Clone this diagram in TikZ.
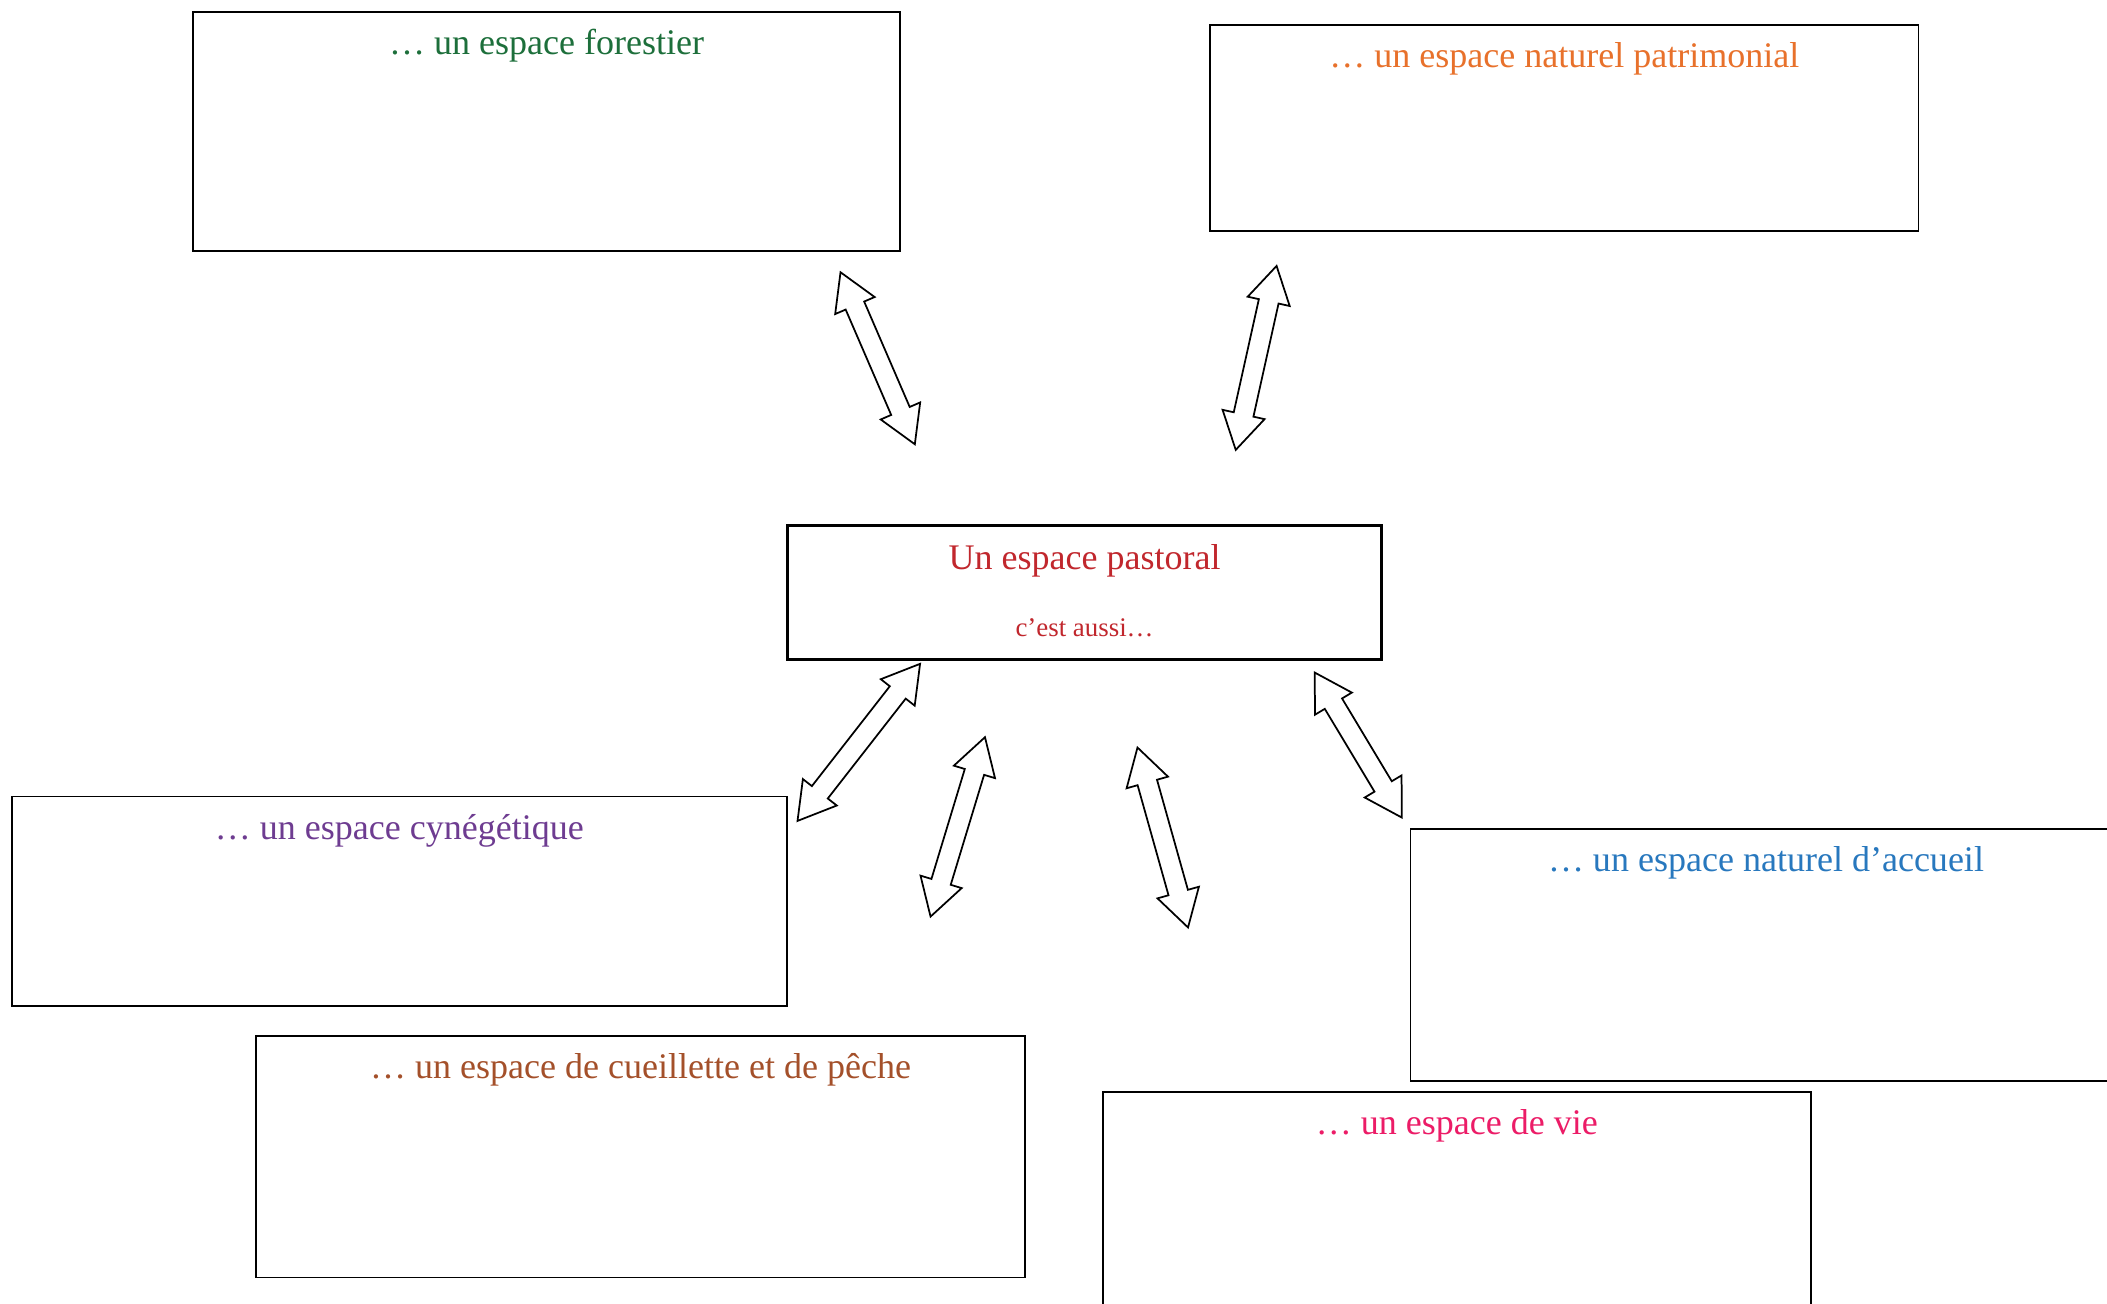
\documentclass[tikz,border=0pt]{standalone}
\usepackage{fontspec}
\setmainfont{Liberation Serif}
\usetikzlibrary{calc}
\definecolor{forestc}{HTML}{1D6F3B}
\definecolor{patric}{HTML}{E8712B}
\definecolor{pastoc}{HTML}{C1272D}
\definecolor{cync}{HTML}{6E3C91}
\definecolor{accc}{HTML}{2878BE}
\definecolor{cueic}{HTML}{A4502A}
\definecolor{viec}{HTML}{EC1C67}
\tikzset{
  box/.style={draw=black, line width=1.4pt, anchor=north west, inner sep=0pt},
  centralbox/.style={box, line width=2.2pt},
  ttl/.style={inner sep=0pt, font=\fontsize{26.8}{30}\selectfont},
  subttl/.style={inner sep=0pt, font=\fontsize{20}{23}\selectfont},
  blockarrow/.style={draw=black, fill=white, line width=1.3pt, line join=miter},
}
\newcommand\hl{27pt}
\newcommand\hw{16pt}
\newcommand\sw{7.5pt}
\newcommand\dblarrow[2]{%
  \draw[blockarrow]
    (#1)
    -- ($(#1)!\hl!(#2)!\hw!90:(#2)$)
    -- ($(#1)!\hl!(#2)!\sw!90:(#2)$)
    -- ($(#2)!\hl!(#1)!\sw!-90:(#1)$)
    -- ($(#2)!\hl!(#1)!\hw!-90:(#1)$)
    -- (#2)
    -- ($(#2)!\hl!(#1)!\hw!90:(#1)$)
    -- ($(#2)!\hl!(#1)!\sw!90:(#1)$)
    -- ($(#1)!\hl!(#2)!\sw!-90:(#2)$)
    -- ($(#1)!\hl!(#2)!\hw!-90:(#2)$)
    -- cycle;}
\begin{document}
\begin{tikzpicture}[x=1pt, y=-1pt]
\useasboundingbox[fill=white] (0,0) rectangle (1568,970);
\begin{scope}
\clip (0,0) rectangle (1568,970);
% boxes
\node[box, minimum width=526pt, minimum height=178pt] (forest) at (143,8) {};
\node[box, minimum width=527pt, minimum height=153pt] (patri) at (900,18) {};
\node[centralbox, minimum width=442pt, minimum height=100pt] (pasto) at (585,390) {};
\node[box, minimum width=577pt, minimum height=156pt] (cyn) at (8,592) {};
\node[box, minimum width=529pt, minimum height=188pt] (acc) at (1049,616) {};
\node[box, minimum width=572pt, minimum height=180pt] (cuei) at (190,770) {};
\node[box, minimum width=527pt, minimum height=190pt] (vie) at (820,812) {};
% titles
\node[ttl, text=forestc] (forestT) at ($(forest.north)+(0,26)$) {… un espace forestier};
\node[ttl, text=patric] (patriT) at ($(patri.north)+(0,26)$) {… un espace naturel patrimonial};
\node[ttl, text=pastoc] (pastoT) at ($(pasto.north)+(0,27)$) {Un espace pastoral};
\node[subttl, text=pastoc] (pastoS) at ($(pasto.north)+(0,77)$) {c’est aussi…};
\node[ttl, text=cync] (cynT) at ($(cyn.north)+(0,26)$) {… un espace cynégétique};
\node[ttl, text=accc] (accT) at ($(acc.north)+(0,26)$) {… un espace naturel d’accueil};
\node[ttl, text=cueic] (cueiT) at ($(cuei.north)+(0,26)$) {… un espace de cueillette et de pêche};
\node[ttl, text=viec] (vieT) at ($(vie.north)+(0,26)$) {… un espace de vie};
% arrow tips
\coordinate (a1s) at (625.5,202.6); \coordinate (a1e) at (680.8,330.6);
\coordinate (a2s) at (950,197.9);   \coordinate (a2e) at (919.6,334.8);
\coordinate (a3s) at (684.7,494);   \coordinate (a3e) at (593.5,610.9);
\coordinate (a4s) at (733,548.6);   \coordinate (a4e) at (692.5,682.1);
\coordinate (a5s) at (846.5,556.3); \coordinate (a5e) at (884.1,690.2);
\coordinate (a6s) at (978.4,500.5); \coordinate (a6e) at (1043.2,608.4);
\dblarrow{a1s}{a1e}
\dblarrow{a2s}{a2e}
\dblarrow{a3s}{a3e}
\dblarrow{a4s}{a4e}
\dblarrow{a5s}{a5e}
\dblarrow{a6s}{a6e}
\end{scope}
\end{tikzpicture}
\end{document}
